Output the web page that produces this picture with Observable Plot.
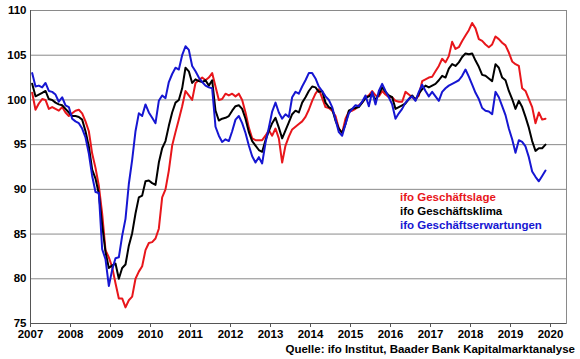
<!DOCTYPE html>
<html>
<head>
<meta charset="utf-8">
<script src="https://cdn.jsdelivr.net/npm/d3@7"></script>
<script src="https://cdn.jsdelivr.net/npm/@observablehq/plot@0.6"></script>
<style>
  html, body { margin: 0; padding: 0; background: #fff; }
  #wrap { position: relative; width: 580px; height: 359px; font-family: Arial, "Liberation Sans", sans-serif; font-weight: bold; }
  #legend { position: absolute; left: 400px; top: 190px; font-size: 11.5px; line-height: 14px; }
  #caption { position: absolute; right: 5px; top: 343px; font-size: 11.5px; line-height: 13px; }
</style>
</head>
<body>
<div id="wrap">
  <div id="chart"></div>
  <div id="legend"></div>
  <div id="caption">Quelle: ifo Institut, Baader Bank Kapitalmarktanalyse</div>
</div>
<script>
// Monthly values, Jan 2007 - Nov 2019
const startYear = 2007;
const lage = [
  100.8, 98.9, 99.6, 100.1, 100.0, 99.0, 99.2, 99.0, 98.8, 99.2, 98.6, 98.2,
  98.5, 98.8, 98.9, 98.5, 97.6, 96.5, 94.0, 92.4, 90.4, 87.3, 83.2, 82.4,
  81.3, 79.5, 77.8, 77.8, 76.8, 77.6, 78.0, 80.0, 80.8, 81.4, 83.2, 84.0,
  84.1, 84.5, 85.6, 89.1, 90.0, 92.1, 94.9, 96.4, 97.8, 99.3, 101.0, 100.5,
  100.0, 101.9, 102.2, 102.5, 102.2, 102.5, 103.0, 101.5, 100.0, 100.1, 100.7, 100.5,
  100.7, 100.4, 100.7, 100.0, 98.6, 96.9, 95.7, 95.5, 95.5, 95.5, 96.0, 96.6,
  96.0, 96.8, 95.7, 93.0, 94.9, 95.9, 96.7, 97.0, 97.3, 97.6, 98.1, 98.9,
  99.9, 100.7, 101.2, 100.2, 99.2, 99.1, 98.8, 98.2, 96.8, 96.3, 97.9, 98.7,
  98.8, 99.0, 99.4, 99.7, 100.3, 100.5, 101.0, 100.5, 100.4, 101.0, 100.6, 100.3,
  100.3, 99.9, 99.8, 99.8, 100.9, 100.6, 100.3, 100.1, 100.5, 102.1, 102.3, 102.5,
  102.6, 103.2, 103.8, 104.6, 104.2, 104.9, 106.5, 105.7, 105.9, 106.6, 107.2, 107.8,
  108.6, 108.0, 106.8, 106.6, 106.2, 105.9, 106.2, 107.1, 106.8, 106.4, 106.1, 105.3,
  104.3, 104.0, 103.8, 101.3, 101.0, 100.1, 99.2, 97.4, 98.6, 97.8, 97.9
];
const klima = [
  101.8, 100.4, 100.6, 100.8, 101.0, 100.1, 100.0, 99.7, 99.5, 99.4, 99.0, 98.6,
  98.2, 98.2, 98.1, 97.8, 96.5, 94.8, 92.2, 91.2, 89.5, 86.0, 83.0, 81.2,
  81.5, 81.7, 80.0, 81.2, 81.6, 83.7, 85.1, 87.3, 89.1, 89.3, 90.9, 91.0,
  90.7, 90.5, 93.0, 94.6, 95.4, 97.1, 98.6, 99.7, 100.0, 101.3, 103.6, 103.2,
  101.9, 102.3, 102.1, 102.0, 102.2, 101.6, 102.2, 98.8, 97.7, 97.9, 98.0, 98.2,
  98.8, 99.3, 99.4, 99.0, 97.9, 96.4, 95.4, 94.9, 94.4, 94.2, 95.5, 96.5,
  97.4, 98.0, 96.9, 95.7, 96.6, 97.5, 98.4, 98.8, 98.6, 99.7, 100.3, 101.0,
  101.5, 101.4, 100.9, 101.0, 99.7, 99.2, 99.0, 97.7, 96.8, 96.3, 97.3, 98.8,
  99.0, 99.1, 99.2, 99.7, 100.2, 100.4, 100.7, 100.0, 100.6, 101.4, 100.9, 100.5,
  100.3, 99.0, 99.2, 99.4, 99.6, 100.1, 100.5, 100.0, 100.7, 101.2, 101.6, 101.4,
  101.6, 101.8, 102.2, 102.7, 102.5, 103.5, 104.0, 103.8, 104.2, 104.8, 105.2, 105.1,
  105.2, 104.4, 103.7, 102.8, 102.7, 102.4, 102.1, 104.0, 103.6, 102.5, 102.2, 101.0,
  100.1, 99.0, 99.9, 99.2, 98.1, 96.9, 95.4, 94.3, 94.6, 94.6, 95.0
];
const erwartungen = [
  103.0, 101.5, 101.6, 101.4, 101.9, 101.0, 100.9, 100.6, 99.8, 100.3, 99.4, 99.2,
  97.9, 97.6, 97.4, 96.8, 95.8, 94.0, 91.5, 89.7, 89.6, 83.3, 82.2, 79.2,
  81.0, 82.3, 82.4, 84.8, 86.7, 90.6, 93.3, 96.5, 98.5, 98.2, 99.5, 98.6,
  98.0, 97.4, 99.9, 100.5, 100.2, 102.0, 102.9, 103.6, 103.4, 105.0, 106.0, 105.6,
  103.8, 103.2, 102.5, 102.0, 101.6, 101.4, 101.3, 97.0, 96.0, 95.3, 95.6, 95.4,
  96.5, 97.8, 98.2, 97.4, 96.3, 94.9, 93.7, 93.0, 93.6, 92.9, 95.2, 96.9,
  98.7, 99.7, 98.6, 97.9, 98.4, 98.1, 100.3, 100.9, 100.7, 101.5, 102.2, 103.0,
  103.0, 102.4, 101.5, 101.0, 100.4, 100.0, 99.2, 97.8, 96.4, 96.0, 97.3, 98.5,
  99.0, 99.4, 99.3, 99.8, 100.5, 99.3, 100.9, 99.5, 101.0, 101.8, 101.0, 100.3,
  99.5, 97.9, 98.5, 99.0, 99.7, 100.1, 100.4, 99.9, 100.9, 101.7, 101.0, 100.4,
  100.9, 100.4, 99.9, 100.9, 101.3, 101.6, 101.8, 102.0, 102.2, 102.7, 103.4, 102.6,
  101.7, 100.8, 100.1, 99.1, 98.8, 98.7, 98.4, 100.9, 100.3, 99.3, 98.3, 96.8,
  95.6, 94.1, 95.5, 95.3, 94.8, 93.6, 92.0, 91.4, 90.9, 91.5, 92.1
];
const seriesNames = ["ifo Geschäftslage", "ifo Geschäftsklima", "ifo Geschäftserwartungen"];
const seriesColors = ["#e8161b", "#000000", "#1616d2"];
const yearTicks = [2007, 2008, 2009, 2010, 2011, 2012, 2013, 2014, 2015, 2016, 2017, 2018, 2019, 2020];
const yTicks = [75, 80, 85, 90, 95, 100, 105, 110];
const xDomain = [2007, 2020.4];
const yDomain = [75, 110];

const seriesValues = [lage, klima, erwartungen];
const data = seriesValues.flatMap((vals, s) =>
  vals.map((v, i) => ({ t: startYear + (i + 0.5) / 12, value: v, series: seriesNames[s] }))
);

const chart = Plot.plot({
  width: 580,
  height: 343,
  marginLeft: 30,
  marginRight: 14,
  marginTop: 10,
  marginBottom: 20,
  style: { fontFamily: "Arial, 'Liberation Sans', sans-serif", fontSize: "11.5px", fontWeight: "bold", color: "#000", background: "#fff" },
  x: { domain: xDomain, label: null },
  y: { domain: yDomain, label: null },
  color: { domain: seriesNames, range: seriesColors },
  marks: [
    Plot.gridY(yTicks, { stroke: "#8a8a8a", strokeOpacity: 1, strokeWidth: 1 }),
    Plot.frame({ stroke: "#8a8a8a" }),
    Plot.ruleX([xDomain[0]], { stroke: "#555" }),
    Plot.ruleY([yDomain[0]], { stroke: "#555" }),
    Plot.line(data, { x: "t", y: "value", z: "series", stroke: "series", strokeWidth: 2, curve: "linear" }),
    Plot.axisX(yearTicks, { tickFormat: d => String(d), tickSize: 4, tickPadding: 2, stroke: "#555" }),
    Plot.axisY(yTicks, { tickSize: 0, tickPadding: 4 })
  ]
});
document.getElementById("chart").appendChild(chart);

const legend = document.getElementById("legend");
seriesNames.forEach((n, i) => {
  const d = document.createElement("div");
  d.textContent = n;
  d.style.color = seriesColors[i];
  legend.appendChild(d);
});
</script>
</body>
</html>
